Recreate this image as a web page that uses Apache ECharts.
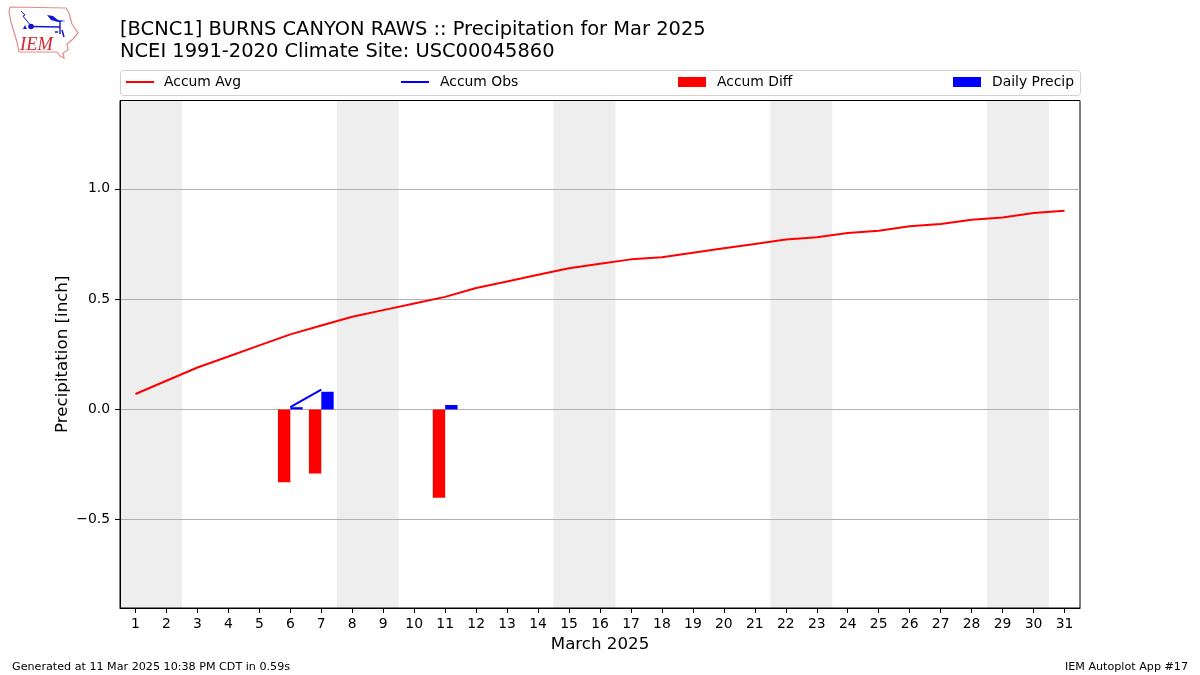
<!DOCTYPE html>
<html><head><meta charset="utf-8">
<style>html,body{margin:0;padding:0;background:#fff}#c{width:1200px;height:675px}</style>
<script src="https://cdn.jsdelivr.net/npm/echarts@6/dist/echarts.min.js"></script>
</head><body><div id="c"></div>
<script>
const days = ['1','2','3','4','5','6','7','8','9','10','11','12','13','14','15','16','17','18','19','20','21','22','23','24','25','26','27','28','29','30','31'];
const weekendDays = ['1','2','8','9','15','16','22','23','29','30'];
const accumAvg = [0.07,0.13,0.19,0.24,0.29,0.34,0.38,0.42,0.45,0.48,0.51,0.55,0.58,0.61,0.64,0.66,0.68,0.69,0.71,0.73,0.75,0.77,0.78,0.80,0.81,0.83,0.84,0.86,0.87,0.89,0.90];
const accumObs = [null,null,null,null,null,0.01,0.09,null,null,null,null,null,null,null,null,null,null,null,null,null,null,null,null,null,null,null,null,null,null,null,null];
const accumDiff = [null,null,null,null,null,-0.33,-0.29,null,null,null,-0.40,null,null,null,null,null,null,null,null,null,null,null,null,null,null,null,null,null,null,null,null];
const dailyPrecip = [null,null,null,null,null,0.01,0.08,null,null,null,0.02,null,null,null,null,null,null,null,null,null,null,null,null,null,null,null,null,null,null,null,null];
const yTicks = [-0.5,0,0.5,1.0];
const titleText = '[BCNC1] BURNS CANYON RAWS :: Precipitation for Mar 2025\nNCEI 1991-2020 Climate Site: USC00045860';
const FONT = '"DejaVu Sans"';
const chart = echarts.init(document.getElementById('c'), null, {renderer:'canvas'});
const legendBase = {top:75, itemWidth:28, itemHeight:10, padding:0,
  textStyle:{fontFamily:FONT,fontSize:13.9,color:'#000',padding:[0,0,0,6]}};
chart.setOption({
  animation:false,
  backgroundColor:'#fff',
  title:{left:120,top:19,padding:0,text:titleText,textStyle:{fontFamily:FONT,fontSize:19.44,fontWeight:'normal',color:'#000',lineHeight:22}},
  legend:[
    Object.assign({},legendBase,{left:126,top:75,itemHeight:2,textStyle:Object.assign({},legendBase.textStyle,{padding:[0,0,0,5]}),data:[{name:'Accum Avg',icon:'rect'}]}),
    Object.assign({},legendBase,{left:401,top:75,itemHeight:2,data:[{name:'Accum Obs',icon:'rect'}]}),
    Object.assign({},legendBase,{left:678,data:[{name:'Accum Diff',icon:'rect'}]}),
    Object.assign({},legendBase,{left:953,data:[{name:'Daily Precip',icon:'rect'}]})
  ],
  grid:{z:1,left:120,right:120,top:100.5,height:507.5,show:true,borderColor:'#000',borderWidth:1,backgroundColor:'transparent'},
  xAxis:{z:0,type:'category',data:days,name:'March 2025',nameLocation:'middle',nameGap:28,
    nameTextStyle:{fontFamily:FONT,fontSize:16.67,color:'#000'},
    axisLine:{show:true,onZero:false,lineStyle:{color:'#000',width:1}},
    axisTick:{show:true,alignWithLabel:true,interval:0,length:5,lineStyle:{color:'#000'}},
    axisLabel:{interval:0,fontFamily:FONT,fontSize:13.9,color:'#000',margin:9},
    splitLine:{show:false},
    splitArea:{show:true,interval:0,areaStyle:{color:days.map(d=>weekendDays.includes(d)?'#eeeeee':'rgba(255,255,255,0)')}}
  },
  yAxis:{z:1,type:'value',min:-0.9,max:1.4,name:'Precipitation [inch]',nameLocation:'middle',nameGap:49,nameMoveOverlap:false,
    nameTextStyle:{fontFamily:FONT,fontSize:16.67,color:'#000'},
    axisLine:{show:true,onZero:false,lineStyle:{color:'#000',width:1}},
    axisTick:{show:true,length:5,customValues:yTicks,lineStyle:{color:'#000'}},
    axisLabel:{show:true,customValues:yTicks,fontFamily:FONT,fontSize:13.9,color:'#000',margin:10,
      formatter:v=>(v<0?'\u2212':'')+Math.abs(v).toFixed(1)},
    splitLine:{show:true,customValues:yTicks,lineStyle:{color:'#b0b0b0',width:1}}
  },
  series:[
    {name:'Accum Avg',type:'line',data:accumAvg,symbol:'none',lineStyle:{color:'#ff0000',width:2},itemStyle:{color:'#ff0000'},z:3},
    {name:'Accum Obs',type:'line',data:accumObs,symbol:'none',connectNulls:false,lineStyle:{color:'#0000ff',width:2},itemStyle:{color:'#0000ff'},z:3},
    {name:'Accum Diff',type:'bar',data:accumDiff,barWidth:'40%',barGap:0,itemStyle:{color:'#ff0000'},z:2},
    {name:'Daily Precip',type:'bar',data:dailyPrecip,barWidth:'40%',barGap:0,itemStyle:{color:'#0000ff'},z:2}
  ],
  graphic:[
    {type:'rect',z:-1,shape:{x:120.5,y:70.5,width:960,height:25,r:3},style:{fill:'#fff',stroke:'#d0d0d0',lineWidth:1}},
    {type:'text',left:12,top:662,style:{text:'Generated at 11 Mar 2025 10:38 PM CDT in 0.59s',font:'11.15px "DejaVu Sans"',fill:'#000'}},
    {type:'text',right:12,top:662,style:{text:'IEM Autoplot App #17',font:'11.15px "DejaVu Sans"',fill:'#000'}},
    {type:'polyline',shape:{points:[[10,7],[66,8],[69,13],[72,24],[78,33],[73,39],[67,44],[68,50],[63,53],[64,58],[60,56],[57,52],[19,52],[17,42],[11,22],[9,12],[10,7]]},style:{stroke:'#e58a8a',fill:'none',lineWidth:1.2}},
    {type:'text',left:20,top:36,style:{text:'IEM',font:'italic 18.5px "Liberation Serif"',fill:'#d9232e'}},
    {type:'circle',shape:{cx:31,cy:26.5,r:2.8},style:{fill:'#1515d0'}},
    {type:'polyline',shape:{points:[[31,26.5],[60,27]]},style:{stroke:'#1515d0',lineWidth:1.6}},
    {type:'polygon',shape:{points:[[47,15],[53,16],[58,20],[66,21],[58,22],[51,20]]},style:{fill:'#1515d0'}},
    {type:'polyline',shape:{points:[[60,21],[60,34]]},style:{stroke:'#1515d0',lineWidth:1.4}},
    {type:'polyline',shape:{points:[[21,11],[25,15],[23,16],[27,21],[31,26]]},style:{stroke:'#1515d0',lineWidth:1,fill:'none'}},
    {type:'polygon',shape:{points:[[25,25],[27,29],[23,29]]},style:{fill:'#1515d0'}},
    {type:'polyline',shape:{points:[[55,32],[58,32]]},style:{stroke:'#1515d0',lineWidth:1.5}},
    {type:'polyline',shape:{points:[[62,30],[64,37]]},style:{stroke:'#1515d0',lineWidth:1.5}}
  ]
});
</script></body></html>
